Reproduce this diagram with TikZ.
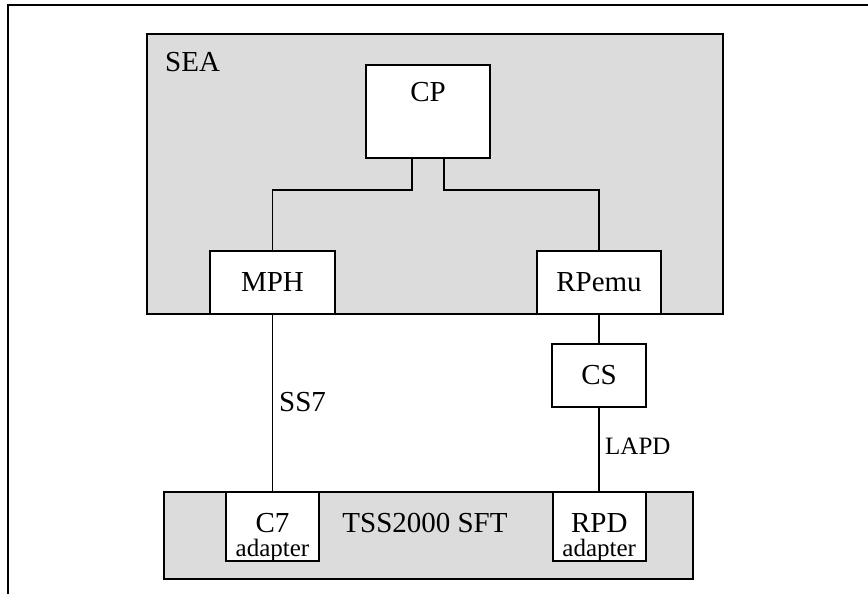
\documentclass[tikz,border=0pt]{standalone}
\usepackage{fontspec}
\setmainfont{Liberation Serif}
\definecolor{panel}{HTML}{DCDCDC}
\begin{document}
\begin{tikzpicture}[x=1pt,y=-1pt,
  every node/.style={font=\fontsize{29}{34}\selectfont},
  line/.style={draw=black,line width=1.6pt},
  group/.style={line,fill=panel,inner sep=0pt,minimum width=#1},
  blk/.style={line,fill=white,inner sep=0pt},
  txt/.style={inner sep=0pt},
  small/.style={inner sep=0pt,font=\fontsize{25}{28}\selectfont}]
\useasboundingbox (0,0) rectangle (868,594);
% outer frame (top and left edges only)
\draw[line width=1.8pt] (8,594) -- (8,5) -- (868,5);
% SEA group
\node[group=576pt,minimum height=280pt] (sea) at (435,174) {};
\node[txt,anchor=base west] (sealbl) at (165,72) {SEA};
\node[blk,minimum width=124pt,minimum height=93pt] (cp) at (428,111.5) {};
\node[txt,anchor=base] (cplbl) at (428,102) {CP};
\node[blk,minimum width=125pt,minimum height=63pt] (mph) at (272.5,282.5) {MPH};
\node[blk,minimum width=124pt,minimum height=63pt] (rpemu) at (599,282.5) {RPemu};
% CP connectors
\draw[line] ([xshift=-16pt]cp.south) -- ++(0,31) -| (mph.north);
\draw[line] ([xshift=16pt]cp.south) -- ++(0,31) -| (rpemu.north);
% CS
\node[blk,minimum width=94pt,minimum height=63pt] (cs) at (599,375.5) {CS};
% TSS2000 SFT group
\node[group=529pt,minimum height=87pt] (tss) at (428.5,535.5) {};
\node[txt,anchor=base] (tsslbl) at (425,532) {TSS2000 SFT};
\node[blk,minimum width=93pt,minimum height=69pt] (c7) at (272.5,526.5) {};
\node[txt,anchor=base] (c7a) at (272.5,532) {C7};
\node[small,anchor=base] (c7b) at (272.5,556) {adapter};
\node[blk,minimum width=93pt,minimum height=69pt] (rpd) at (599.25,526.5) {};
\node[txt,anchor=base] (rpda) at (599.25,532) {RPD};
\node[small,anchor=base] (rpdb) at (599.25,556) {adapter};
% links
\draw[line] (mph.south) -- (mph.south |- c7.north);
\draw[line] (rpemu.south) -- (cs.north);
\draw[line] (cs.south) -- (cs.south |- rpd.north);
\node[txt,anchor=base west] (ss7) at (279,411) {SS7};
\node[small,anchor=base west] (lapd) at (605,454) {LAPD};
\end{tikzpicture}
\end{document}
